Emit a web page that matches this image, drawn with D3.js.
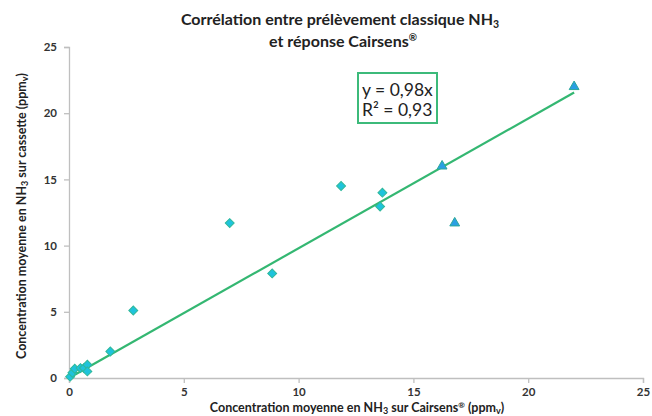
<!DOCTYPE html>
<html><head><meta charset="utf-8">
<script src="https://cdn.jsdelivr.net/npm/d3@7"></script>
<style>body{margin:0;background:#fff}svg{display:block}</style>
</head><body><svg id="c" width="652" height="416"></svg>
<script>
const xTicks = [0, 5, 10, 15, 20, 25];
const yTicks = [0, 5, 10, 15, 20, 25];
const diamondX = [0.05, 0.15, 0.25, 0.5, 0.65, 0.8, 0.8, 1.8, 2.8, 7.0, 8.85, 11.85, 13.65, 13.55];
const diamondY = [0.1, 0.4, 0.7, 0.75, 0.75, 1.0, 0.5, 2.0, 5.1, 11.7, 7.9, 14.5, 14.0, 12.95];
const triangleX = [22.0, 16.25, 16.8];
const triangleY = [22.0, 16.0, 11.7];
const slope = 0.98;
const trendX = [0, 22];
const eqLines = ["y = 0,98x", "R² = 0,93"];

const svg = d3.select("#c");
const font = "Lato, 'Open Sans', sans-serif";
const x = d3.scaleLinear().domain([0, 25]).range([69, 643]);
const y = d3.scaleLinear().domain([0, 25]).range([378, 47]);

const axisColor = "#bfbfbf";
const gx = svg.append("g").attr("transform", "translate(0,378)")
  .call(d3.axisBottom(x).tickValues(xTicks).tickSize(5).tickPadding(5));
const gy = svg.append("g").attr("transform", "translate(69,0)")
  .call(d3.axisLeft(y).tickValues(yTicks).tickSize(5).tickPadding(7));
[gx, gy].forEach(g => {
  g.select(".domain").attr("stroke", axisColor).attr("stroke-width", 1.3);
  g.selectAll(".tick line").attr("stroke", axisColor).attr("stroke-width", 1.3);
  g.selectAll(".tick text").attr("fill", "#333").attr("font-family", font)
    .attr("font-size", 11.5).attr("font-weight", "bold");
});

// trend line
svg.append("line")
  .attr("x1", x(trendX[0])).attr("y1", y(slope * trendX[0]))
  .attr("x2", x(trendX[1])).attr("y2", y(slope * trendX[1]))
  .attr("stroke", "#34b772").attr("stroke-width", 2.2);

// diamonds
const diamond = d3.symbol().type(d3.symbolSquare).size(40);
svg.append("g").selectAll("path").data(diamondX.map((v, i) => [v, diamondY[i]]))
  .join("path")
  .attr("d", diamond)
  .attr("transform", d => `translate(${x(d[0])},${y(d[1])}) rotate(45)`)
  .attr("fill", "#1ec3dc").attr("stroke", "#2fb89a").attr("stroke-width", 1);

// triangles
const tri = d3.symbol().type(d3.symbolTriangle).size(42);
svg.append("g").selectAll("path").data(triangleX.map((v, i) => [v, triangleY[i]]))
  .join("path")
  .attr("d", tri)
  .attr("transform", d => `translate(${x(d[0])},${y(d[1])})`)
  .attr("fill", "#2a9fe3").attr("stroke", "#2aa89a").attr("stroke-width", 1);

// equation box
svg.append("rect").attr("x", 358).attr("y", 73).attr("width", 79).attr("height", 50)
  .attr("fill", "#fff").attr("stroke", "#3cba7a").attr("stroke-width", 2);
svg.append("g").selectAll("text").data(eqLines).join("text")
  .attr("x", 362).attr("y", (d, i) => 96 + i * 20)
  .attr("font-family", font).attr("font-size", 17.5).attr("fill", "#222")
  .text(d => d);

// title
const title = svg.append("text").attr("text-anchor", "middle")
  .attr("font-family", font).attr("font-weight", "bold").attr("font-size", 16).attr("fill", "#222");
const t1 = title.append("tspan").attr("x", 340).attr("y", 25);
t1.append("tspan").text("Corrélation entre prélèvement classique NH");
t1.append("tspan").attr("font-size", 10.5).attr("dy", 3).text("3");
const t2 = title.append("tspan").attr("x", 343).attr("y", 47);
t2.append("tspan").text("et réponse Cairsens");
t2.append("tspan").attr("font-size", 10).attr("dy", -6).text("®");

// x label
const xl = svg.append("text").attr("text-anchor", "middle").attr("x", 357).attr("y", 412)
  .attr("font-family", font).attr("font-weight", "bold").attr("font-size", 12.5).attr("fill", "#222");
xl.append("tspan").text("Concentration moyenne en NH");
xl.append("tspan").attr("font-size", 9).attr("dy", 2).text("3");
xl.append("tspan").attr("dy", -2).text(" sur Cairsens");
xl.append("tspan").attr("font-size", 8).attr("dy", -4).text("®");
xl.append("tspan").attr("dy", 4).text(" (ppm");
xl.append("tspan").attr("font-size", 9).attr("dy", 2).text("v");
xl.append("tspan").attr("dy", -2).text(")");

// y label
const yl = svg.append("text").attr("text-anchor", "middle")
  .attr("transform", "translate(26,216) rotate(-90)")
  .attr("font-family", font).attr("font-weight", "bold").attr("font-size", 12.5).attr("fill", "#222");
yl.append("tspan").text("Concentration moyenne en NH");
yl.append("tspan").attr("font-size", 9).attr("dy", 2).text("3");
yl.append("tspan").attr("dy", -2).text(" sur cassette (ppm");
yl.append("tspan").attr("font-size", 9).attr("dy", 2).text("v");
yl.append("tspan").attr("dy", -2).text(")");
</script></body></html>
